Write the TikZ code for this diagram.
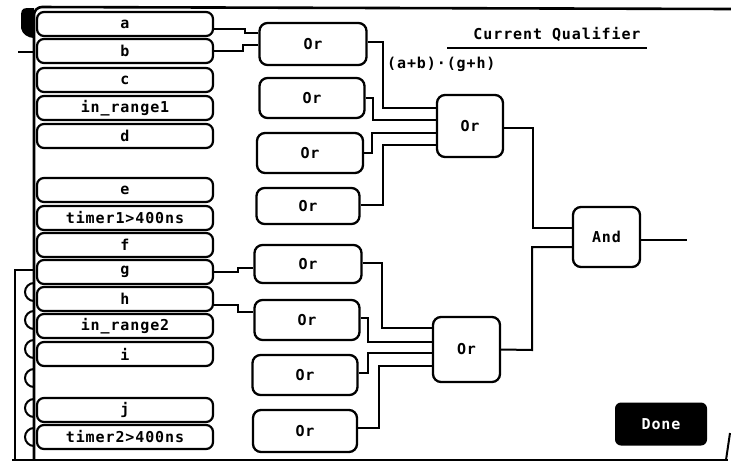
\documentclass[tikz,border=0pt]{standalone}
\usepackage{fontspec}
\newfontfamily\hpfam[LetterSpace=6]{DejaVu Sans Mono}
\newcommand\hpfont{\hpfam\bfseries\fontsize{15}{17}\selectfont}
\begin{document}
\begin{tikzpicture}[x=1pt,y=-1pt]
\tikzset{
  wire/.style={line width=2pt},
  inbox/.style={draw, line width=2.2pt, rounded corners=7pt, minimum width=176pt, minimum height=24pt, inner sep=0pt, font=\hpfont},
  gate/.style={draw, line width=2.3pt, rounded corners=8pt, inner sep=0pt, font=\hpfont},
  txt/.style={inner sep=0pt, font=\hpfont},
  donebtn/.style={fill=black, text=white, rounded corners=6pt, minimum width=92pt, minimum height=43pt, inner sep=0pt, font=\hpfont}
}
\useasboundingbox (0,0) rectangle (731,463);
\fill[white] (0,0) rectangle (731,463);

% frame
\draw[line width=2.6pt, rounded corners=8pt] (34,459) -- (34,7) -- (731,9);
\draw[wire] (12,460) -- (728,460);
\draw[wire] (730,433) -- (726,460);
\draw[wire] (15,460) -- (15,270) -- (34,270);
\draw[wire] (18,52) -- (34,52);
\fill (34,8) -- (27,8) .. controls (21,8) and (21,12) .. (21,18) -- (21,28) .. controls (22,34) and (28,38) .. (34,38) -- cycle;
\foreach \yy in {292,320,349,378,408,437}
  \draw[wire] (34,\yy-9) arc[start angle=90, end angle=270, radius=9pt];

% input boxes
\node[inbox] (a) at (125,24) {a};
\node[inbox] (b) at (125,51) {b};
\node[inbox] (c) at (125,80) {c};
\node[inbox] (r1) at (125,108) {in\_range1};
\node[inbox] (d) at (125,136) {d};
\node[inbox] (e) at (125,190) {e};
\node[inbox] (t1) at (125,218) {timer1>400ns};
\node[inbox] (f) at (125,245) {f};
\node[inbox] (g) at (125,272) {g};
\node[inbox] (h) at (125,299) {h};
\node[inbox] (r2) at (125,326) {in\_range2};
\node[inbox] (i) at (125,354) {i};
\node[inbox] (j) at (125,410) {j};
\node[inbox] (t2) at (125,437) {timer2>400ns};

% first-level gates
\node[gate, minimum width=107pt, minimum height=42pt] (g1) at (313,44) {Or};
\node[gate, minimum width=105pt, minimum height=40pt] (g2) at (312,98) {Or};
\node[gate, minimum width=106pt, minimum height=40pt] (g3) at (310,153) {Or};
\node[gate, minimum width=103pt, minimum height=36pt] (g4) at (308,206) {Or};
\node[gate, minimum width=107pt, minimum height=38pt] (g5) at (308,264) {Or};
\node[gate, minimum width=105pt, minimum height=40pt] (g6) at (307,320) {Or};
\node[gate, minimum width=105pt, minimum height=40pt] (g7) at (305,375) {Or};
\node[gate, minimum width=104pt, minimum height=42pt] (g8) at (305,431) {Or};

% second-level gates
\node[gate, minimum width=66pt, minimum height=62pt] (gt) at (470,126) {Or};
\node[gate, minimum width=67pt, minimum height=65pt] (gb) at (466.5,349.5) {Or};
\node[gate, minimum width=67pt, minimum height=60pt] (gand) at (606.5,237) {And};
\coordinate (out) at (687,240);

% texts
\node[txt] (title) at (557,34) {Current Qualifier};
\draw[wire] (447,48) -- (647,48);
\node[txt, anchor=west] (expr) at (387,64) {(a+b)·(g+h)};
\node[donebtn] (done) at (661,424) {Done};

% connectors
\draw[wire] (a.east |- 0,29) -- (245,29) -- (245,33) -- (g1.west |- 0,33);
\draw[wire] (b.east) -- (243,51) -- (243,45) -- (g1.west |- 0,45);
\draw[wire] (g.east) -- (238,272) -- (238,268) -- (g5.west |- 0,268);
\draw[wire] (h.east |- 0,305) -- (238,305) -- (238,312) -- (g6.west |- 0,312);

\draw[wire] (g1.east |- 0,42) -- (383,42) -- (383,108) -- (gt.west |- 0,108);
\draw[wire] (g2.east) -- (373,98) -- (373,120) -- (gt.west |- 0,120);
\draw[wire] (g3.east) -- (372,153) -- (372,133) -- (gt.west |- 0,133);
\draw[wire] (g4.east |- 0,205) -- (383,205) -- (383,145) -- (gt.west |- 0,145);

\draw[wire] (g5.east |- 0,263) -- (382,263) -- (382,328) -- (gb.west |- 0,328);
\draw[wire] (g6.east |- 0,318) -- (368,318) -- (368,342) -- (gb.west |- 0,342);
\draw[wire] (g7.east |- 0,373) -- (368,373) -- (368,353) -- (gb.west |- 0,353);
\draw[wire] (g8.east |- 0,428) -- (379,428) -- (379,366) -- (gb.west |- 0,366);

\draw[wire] (gt.east |- 0,128) -- (533,128) -- (533,228) -- (gand.west |- 0,228);
\draw[wire] (gb.east) -- (532,350) -- (532,247) -- (gand.west |- 0,247);
\draw[wire] (gand.east |- 0,240) -- (out);
\end{tikzpicture}
\end{document}
